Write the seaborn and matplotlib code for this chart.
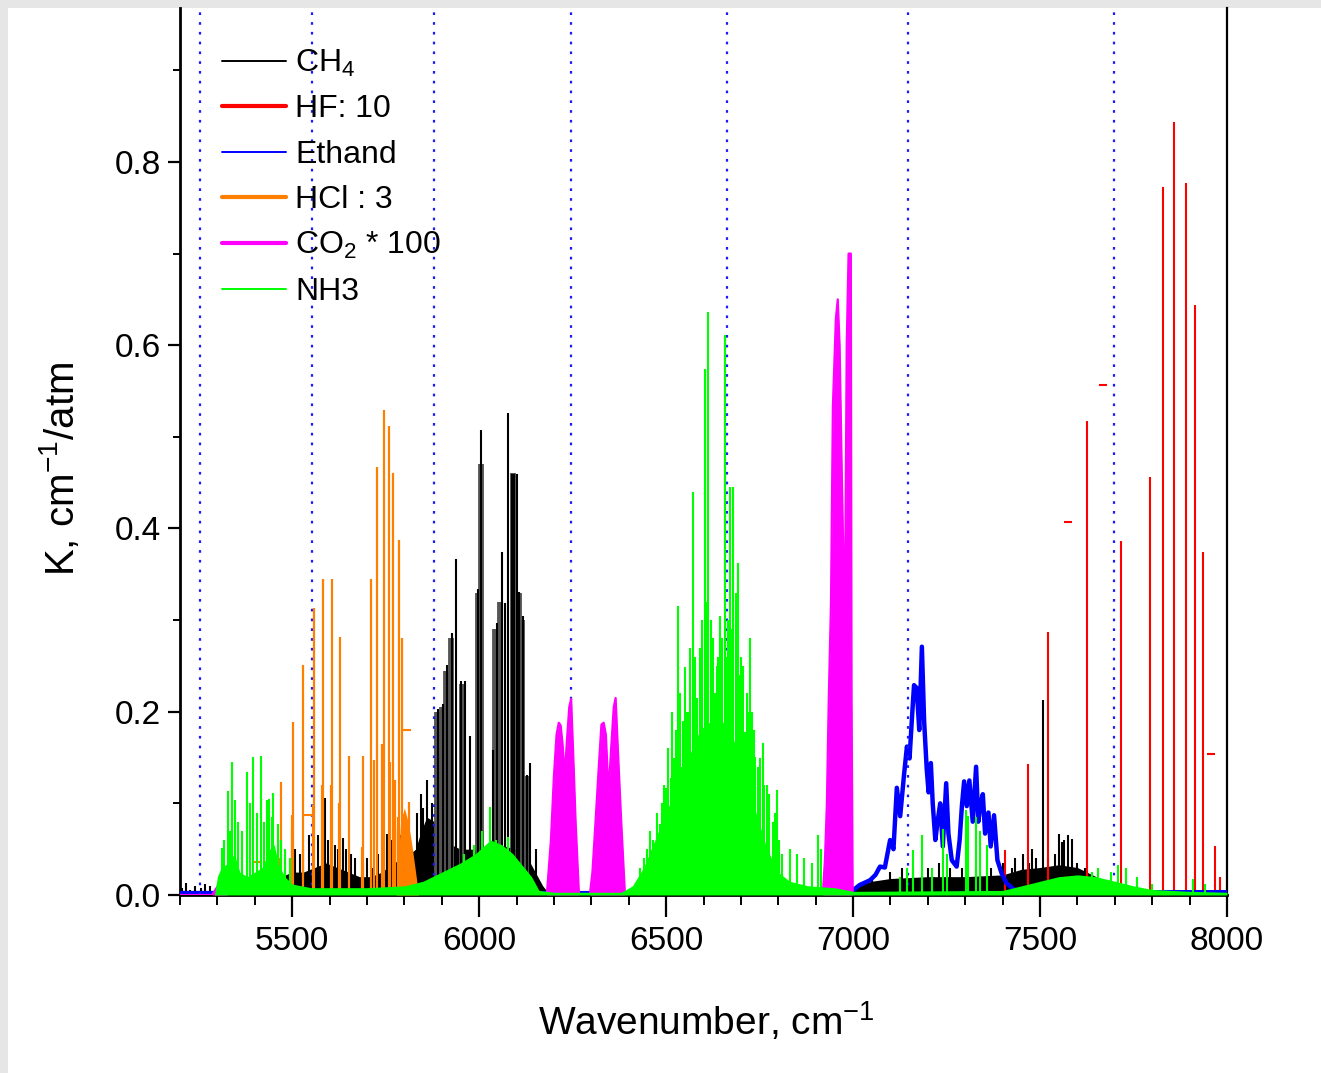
import matplotlib
matplotlib.use("Agg")
import matplotlib.pyplot as plt
from matplotlib.lines import Line2D
from matplotlib.ticker import MultipleLocator, FormatStrFormatter
import seaborn as sns

# ---- data (wavenumber in cm-1, K in cm-1/atm) ----
# CH4 lines
ch4_x = [5205, 5216, 5228, 5240, 5256, 5268, 5281,
         5480, 5499, 5508, 5520, 5530, 5545, 5555, 5570, 5588, 5595, 5605, 5615, 5622, 5636, 5645, 5656,
         5668, 5690, 5700, 5715, 5730, 5745, 5753, 5765, 5775, 5783, 5790, 5805, 5812, 5820, 5835, 5845, 5851,
         5860, 5873, 5890, 5903, 5914, 5927, 5938, 5951, 5962, 5975, 5997, 6005, 6037, 6048, 6061, 6069,
         6077, 6088, 6094, 6100, 6107, 6117, 6128, 6136, 6152,
         7050, 7100, 7130, 7160, 7200, 7230, 7260, 7290, 7330, 7370, 7400, 7424, 7433, 7455, 7470, 7478,
         7490, 7507, 7520, 7540, 7552, 7560, 7565, 7575, 7586, 7600, 7620]
ch4_y = [0.008, 0.013, 0.006, 0.01, 0.008, 0.012, 0.01,
         0.04, 0.071, 0.05, 0.045, 0.05, 0.066, 0.055, 0.065, 0.106, 0.06, 0.045, 0.055, 0.05, 0.062, 0.05, 0.045,
         0.04, 0.035, 0.04, 0.03, 0.045, 0.05, 0.067, 0.06, 0.074, 0.07, 0.065, 0.07, 0.06, 0.045, 0.09, 0.11, 0.095,
         0.126, 0.1, 0.203, 0.208, 0.251, 0.286, 0.367, 0.233, 0.233, 0.173, 0.334, 0.508, 0.158, 0.297, 0.374, 0.319,
         0.526, 0.459, 0.459, 0.459, 0.331, 0.305, 0.131, 0.144, 0.05,
         0.02, 0.025, 0.03, 0.028, 0.03, 0.035, 0.03, 0.03, 0.028, 0.03, 0.035, 0.03, 0.04, 0.045, 0.035, 0.05,
         0.04, 0.213, 0.04, 0.045, 0.067, 0.058, 0.06, 0.065, 0.061, 0.035, 0.03]
# CH4 unresolved manifolds (grey columns)
ch4_wide_x = [5888, 5901, 5912, 5924, 5955, 5996, 6004, 6043, 6055, 6090, 6106, 6115, 6129]
ch4_wide_y = [0.2, 0.205, 0.245, 0.28, 0.23, 0.33, 0.47, 0.29, 0.32, 0.46, 0.33, 0.3, 0.13]
# CH4 dense background
ch4_env_x = [5200, 5290, 5296, 5455, 5470, 5500, 5530, 5560, 5590, 5620, 5650, 5680, 5710, 5740, 5770,
             5800, 5830, 5845, 5860, 5880, 5900, 5950, 6000, 6050, 6100, 6130, 6150, 6170, 6190, 6985,
             7000, 7050, 7100, 7200, 7300, 7400, 7450, 7500, 7550, 7600, 7650, 7700, 7740]
ch4_env_y = [0.005, 0.005, 0.0, 0.0, 0.02, 0.025, 0.025, 0.03, 0.035, 0.03, 0.025, 0.02, 0.02, 0.025, 0.035,
             0.04, 0.05, 0.07, 0.085, 0.08, 0.06, 0.05, 0.05, 0.055, 0.05, 0.04, 0.025, 0.01, 0.0, 0.0,
             0.008, 0.015, 0.018, 0.02, 0.02, 0.022, 0.028, 0.03, 0.033, 0.03, 0.02, 0.012, 0.0]

# HF (x10)
hf_x = [7406, 7468, 7521, 7625, 7716, 7794, 7829, 7858, 7890, 7914, 7936, 7968, 7981]
hf_y = [0.049, 0.143, 0.287, 0.517, 0.386, 0.456, 0.773, 0.844, 0.777, 0.644, 0.374, 0.054, 0.02]
hf_mark_x = [7574, 7668, 7957]
hf_mark_y = [0.407, 0.557, 0.154]

# Ethane band
eth_x = [5200, 6990, 7018, 7045, 7060, 7072, 7085, 7099, 7108, 7117, 7126, 7136, 7144, 7151, 7157, 7163,
         7170, 7177, 7184, 7190, 7197, 7202, 7208, 7213, 7220, 7226, 7233, 7240, 7249, 7255, 7264, 7277,
         7285, 7291, 7297, 7304, 7311, 7320, 7329, 7335, 7341, 7347, 7353, 7362, 7368, 7377, 7386, 7397,
         7410, 7437, 7500, 8000]
eth_y = [0.002, 0.002, 0.011, 0.016, 0.022, 0.031, 0.03, 0.06, 0.05, 0.117, 0.086, 0.13, 0.162, 0.149, 0.19, 0.229,
         0.226, 0.18, 0.271, 0.19, 0.137, 0.112, 0.144, 0.1, 0.06, 0.08, 0.1, 0.053, 0.122, 0.067, 0.038, 0.031,
         0.06, 0.097, 0.124, 0.097, 0.125, 0.08, 0.14, 0.08, 0.1, 0.11, 0.067, 0.09, 0.053, 0.087, 0.038, 0.024,
         0.013, 0.004, 0.003, 0.003]

# HCl (/3)
hcl_x = [5470, 5503, 5528, 5558, 5583, 5607, 5628, 5652, 5690, 5710, 5728, 5746, 5759, 5770, 5786, 5794, 5812,
         5466, 5499, 5555, 5580, 5604, 5625, 5687, 5719, 5740, 5762, 5776, 5783]
hcl_y = [0.123, 0.189, 0.251, 0.313, 0.345, 0.345, 0.282, 0.152, 0.152, 0.345, 0.467, 0.529, 0.512, 0.461, 0.387,
         0.281, 0.102,
         0.04, 0.087, 0.098, 0.12, 0.12, 0.1, 0.052, 0.147, 0.165, 0.145, 0.125, 0.085]
hcl_mark_x = [5407, 5543, 5807]
hcl_mark_y = [0.036, 0.087, 0.18]
hcl_fill_x = [5778, 5790, 5800, 5810, 5820, 5830, 5838]
hcl_fill_y = [0.0, 0.08, 0.095, 0.08, 0.055, 0.025, 0.0]

# CO2 (x100)
co2_x = [5200, 5286, 5295, 5305, 5312, 5320, 5326,
         6181, 6192, 6200, 6207, 6213, 6218, 6223, 6229, 6235, 6241, 6246, 6251, 6258, 6267,
         6296, 6303, 6312, 6320, 6327, 6333, 6339, 6346, 6353, 6360, 6365, 6372, 6380, 6390,
         6919, 6925, 6930, 6935, 6941, 6946, 6954, 6959, 6964, 6970, 6978, 6983, 6988, 6994, 6996, 6999, 8000]
co2_y = [0.0, 0.0, 0.006, 0.012, 0.02, 0.022, 0.0,
         0.0, 0.06, 0.13, 0.175, 0.188, 0.185, 0.165, 0.13, 0.17, 0.205, 0.214, 0.16, 0.08, 0.0,
         0.0, 0.025, 0.085, 0.14, 0.186, 0.188, 0.175, 0.11, 0.16, 0.205, 0.215, 0.15, 0.08, 0.0,
         0.0, 0.04, 0.1, 0.214, 0.32, 0.533, 0.629, 0.65, 0.6, 0.456, 0.285, 0.6, 0.70, 0.70, 0.214, 0.0, 0.0]

# NH3 dense background and lines
nh3_env_x = [5200, 5292, 5300, 5310, 5330, 5345, 5360, 5380, 5400, 5420, 5440, 5452, 5462, 5480, 5500, 5550,
             5700, 5800, 5850, 5900, 5950, 5990, 6030, 6060, 6090, 6120, 6140, 6160, 6200, 6380, 6410, 6440,
             6470, 6500, 6530, 6560, 6590, 6620, 6650, 6680, 6710, 6740, 6770, 6800, 6830, 6880, 6950, 7000,
             7400, 7450, 7500, 7550, 7600, 7650, 7700, 7750, 7800, 7900, 8000]
nh3_env_y = [0.0, 0.0, 0.02, 0.03, 0.035, 0.045, 0.025, 0.02, 0.025, 0.03, 0.05, 0.055, 0.035, 0.02, 0.012, 0.008,
             0.008, 0.01, 0.015, 0.025, 0.035, 0.045, 0.06, 0.055, 0.045, 0.03, 0.02, 0.005, 0.003, 0.003, 0.01, 0.03,
             0.06, 0.09, 0.12, 0.15, 0.18, 0.19, 0.19, 0.17, 0.13, 0.09, 0.05, 0.025, 0.015, 0.01, 0.008, 0.004,
             0.005, 0.01, 0.015, 0.02, 0.022, 0.02, 0.015, 0.01, 0.006, 0.004, 0.003]
nh3_x = [5311, 5318, 5329, 5335, 5340, 5347, 5355, 5367, 5378, 5387, 5396, 5405, 5417, 5425, 5433, 5439,
         5445, 5450, 5461, 5470, 5481, 5494,
         5960, 5985, 6008, 6028, 6045, 6077,
         6430, 6440, 6450, 6457, 6466, 6475, 6484, 6490, 6495, 6501, 6505, 6512, 6515, 6520, 6526, 6532,
         6537, 6541, 6545, 6550, 6555, 6560, 6565, 6571, 6577, 6583, 6590, 6593, 6597, 6604, 6608, 6613,
         6620, 6625, 6631, 6637, 6640, 6644, 6647, 6650, 6657, 6661, 6665, 6671, 6676, 6680, 6687, 6693,
         6697, 6700, 6705, 6711, 6715, 6720, 6724, 6730, 6734, 6738, 6745, 6750, 6758, 6763, 6770, 6775,
         6785, 6790, 6796, 6803, 6810, 6830, 6850, 6870, 6890, 6905, 6915,
         7126, 7144, 7161, 7183, 7210, 7241, 7250, 7302, 7308, 7330, 7339, 7357,
         7640, 7655, 7690, 7708, 7730, 7760, 7800, 7909, 7940]
nh3_y = [0.051, 0.06, 0.113, 0.07, 0.145, 0.104, 0.08, 0.07, 0.134, 0.10, 0.151, 0.09, 0.152, 0.08, 0.104, 0.105,
         0.085, 0.111, 0.077, 0.06, 0.05, 0.04,
         0.045, 0.055, 0.07, 0.096, 0.06, 0.063,
         0.03, 0.04, 0.05, 0.07, 0.06, 0.09, 0.077, 0.1, 0.12, 0.117, 0.16, 0.128, 0.2, 0.15, 0.18, 0.315,
         0.22, 0.14, 0.19, 0.249, 0.2, 0.2, 0.27, 0.44, 0.26, 0.215, 0.27, 0.225, 0.3, 0.574, 0.32, 0.636,
         0.3, 0.28, 0.22, 0.25, 0.26, 0.304, 0.24, 0.28, 0.611, 0.26, 0.3, 0.445, 0.29, 0.445, 0.33, 0.362,
         0.24, 0.26, 0.25, 0.178, 0.22, 0.2, 0.281, 0.2, 0.18, 0.151, 0.14, 0.15, 0.166, 0.12, 0.12, 0.11,
         0.08, 0.09, 0.115, 0.06, 0.045, 0.05, 0.045, 0.04, 0.035, 0.065, 0.05,
         0.02, 0.03, 0.049, 0.065, 0.03, 0.072, 0.045, 0.093, 0.086, 0.085, 0.07, 0.055,
         0.025, 0.03, 0.025, 0.033, 0.03, 0.02, 0.012, 0.018, 0.012]

# laser positions (dotted lines)
laser_x = [5253, 5553, 5879, 6246, 6663, 7147, 7698]

labels = [r"CH$_4$", "HF: 10", "Ethand", "HCl : 3", r"CO$_2$ * 100", "NH3"]
colors = ["#000000", "#ff0000", "#0000ff", "#ff8000", "#ff00ff", "#00ff00"]

# ---- style ----
sns.set_style("ticks")
plt.rcParams["font.family"] = ["Liberation Sans", "DejaVu Sans"]
plt.rcParams["mathtext.fontset"] = "custom"
plt.rcParams["mathtext.rm"] = "Liberation Sans"
plt.rcParams["mathtext.it"] = "Liberation Sans:italic"
plt.rcParams["mathtext.bf"] = "Liberation Sans:bold"
for key in ["text.color", "axes.labelcolor", "xtick.color", "ytick.color", "axes.edgecolor"]:
    plt.rcParams[key] = "black"

fig = plt.figure(figsize=(13.21, 10.73), dpi=100)
fig.patch.set_facecolor("#e6e6e6")
fig.add_artist(plt.Rectangle((8 / 1321, 0), 1, (1073 - 8) / 1073, transform=fig.transFigure,
                             facecolor="white", edgecolor="none", zorder=-1))
ax = fig.add_axes([180 / 1321, 178 / 1073, 1047 / 1321, 887 / 1073])

# CH4
ax.fill_between(ch4_env_x, ch4_env_y, color=colors[0], lw=0, zorder=2)
ax.vlines(ch4_wide_x, 0, ch4_wide_y, color="#555555", lw=4.2, zorder=2)
ax.vlines(ch4_x, 0, ch4_y, color=colors[0], lw=1.5, zorder=2.1)
# HF
ax.vlines(hf_x, 0, hf_y, color=colors[1], lw=1.5, zorder=2.5)
ax.scatter(hf_mark_x, hf_mark_y, marker="_", s=40, color=colors[1], lw=1.5, zorder=2.5)
# Ethane
sns.lineplot(x=eth_x, y=eth_y, ax=ax, color=colors[2], lw=3.2, sort=False, estimator=None, zorder=3)
# lasers
for xl in laser_x:
    ax.axvline(xl, color="#1a1aff", lw=1.6, ls=(0, (1.2, 3.2)), zorder=3.5)
# HCl
ax.fill_between(hcl_fill_x, hcl_fill_y, color=colors[3], lw=0, zorder=4)
ax.vlines(hcl_x, 0, hcl_y, color=colors[3], lw=1.6, zorder=4)
ax.scatter(hcl_mark_x, hcl_mark_y, marker="_", s=40, color=colors[3], lw=1.5, zorder=4)
# CO2
ax.fill_between(co2_x, co2_y, color=colors[4], lw=0, zorder=5)
sns.lineplot(x=co2_x, y=co2_y, ax=ax, color=colors[4], lw=1.6, sort=False, estimator=None, zorder=5)
# NH3
ax.fill_between(nh3_env_x, nh3_env_y, color=colors[5], lw=0, zorder=6)
ax.vlines(nh3_x, 0, nh3_y, color=colors[5], lw=1.5, zorder=6)

ax.set_xlim(5200, 8000)
ax.set_ylim(0, 0.968)
ax.xaxis.set_major_locator(MultipleLocator(500))
ax.xaxis.set_minor_locator(MultipleLocator(100))
ax.yaxis.set_major_locator(MultipleLocator(0.2))
ax.yaxis.set_minor_locator(MultipleLocator(0.1))
ax.yaxis.set_major_formatter(FormatStrFormatter("%.1f"))
ax.set_xticks([5500, 6000, 6500, 7000, 7500, 8000])

ax.tick_params(axis="x", which="major", direction="out", length=16, width=1.6, labelsize=24, pad=6)
ax.tick_params(axis="x", which="minor", direction="out", length=7, width=1.4)
ax.tick_params(axis="y", which="major", direction="out", length=9, width=1.6, labelsize=24, pad=5)
ax.tick_params(axis="y", which="minor", direction="out", length=5, width=1.4)
ax.spines["top"].set_visible(False)
ax.spines["left"].set_linewidth(2.0)
ax.spines["bottom"].set_linewidth(2.0)
ax.spines["right"].set_linewidth(1.6)

ax.set_xlabel(r"Wavenumber, cm$^{-1}$", fontsize=28)
ax.set_ylabel(r"K, cm$^{-1}$/atm", fontsize=29)
ax.xaxis.set_label_coords(0.503, -0.118)
ax.yaxis.set_label_coords(-0.094, 0.48)

handles = [Line2D([], [], color=colors[0], lw=1.4),
           Line2D([], [], color=colors[1], lw=3),
           Line2D([], [], color=colors[2], lw=1.4),
           Line2D([], [], color=colors[3], lw=3),
           Line2D([], [], color=colors[4], lw=3),
           Line2D([], [], color=colors[5], lw=1.4)]
ax.legend(handles, labels, loc="upper left", bbox_to_anchor=(0.04, 0.955), frameon=False,
          fontsize=23, handlelength=2.0, handletextpad=0.3, labelspacing=0.48, borderaxespad=0,
          borderpad=0)

fig.savefig("out.png", dpi=100, facecolor=fig.get_facecolor())
